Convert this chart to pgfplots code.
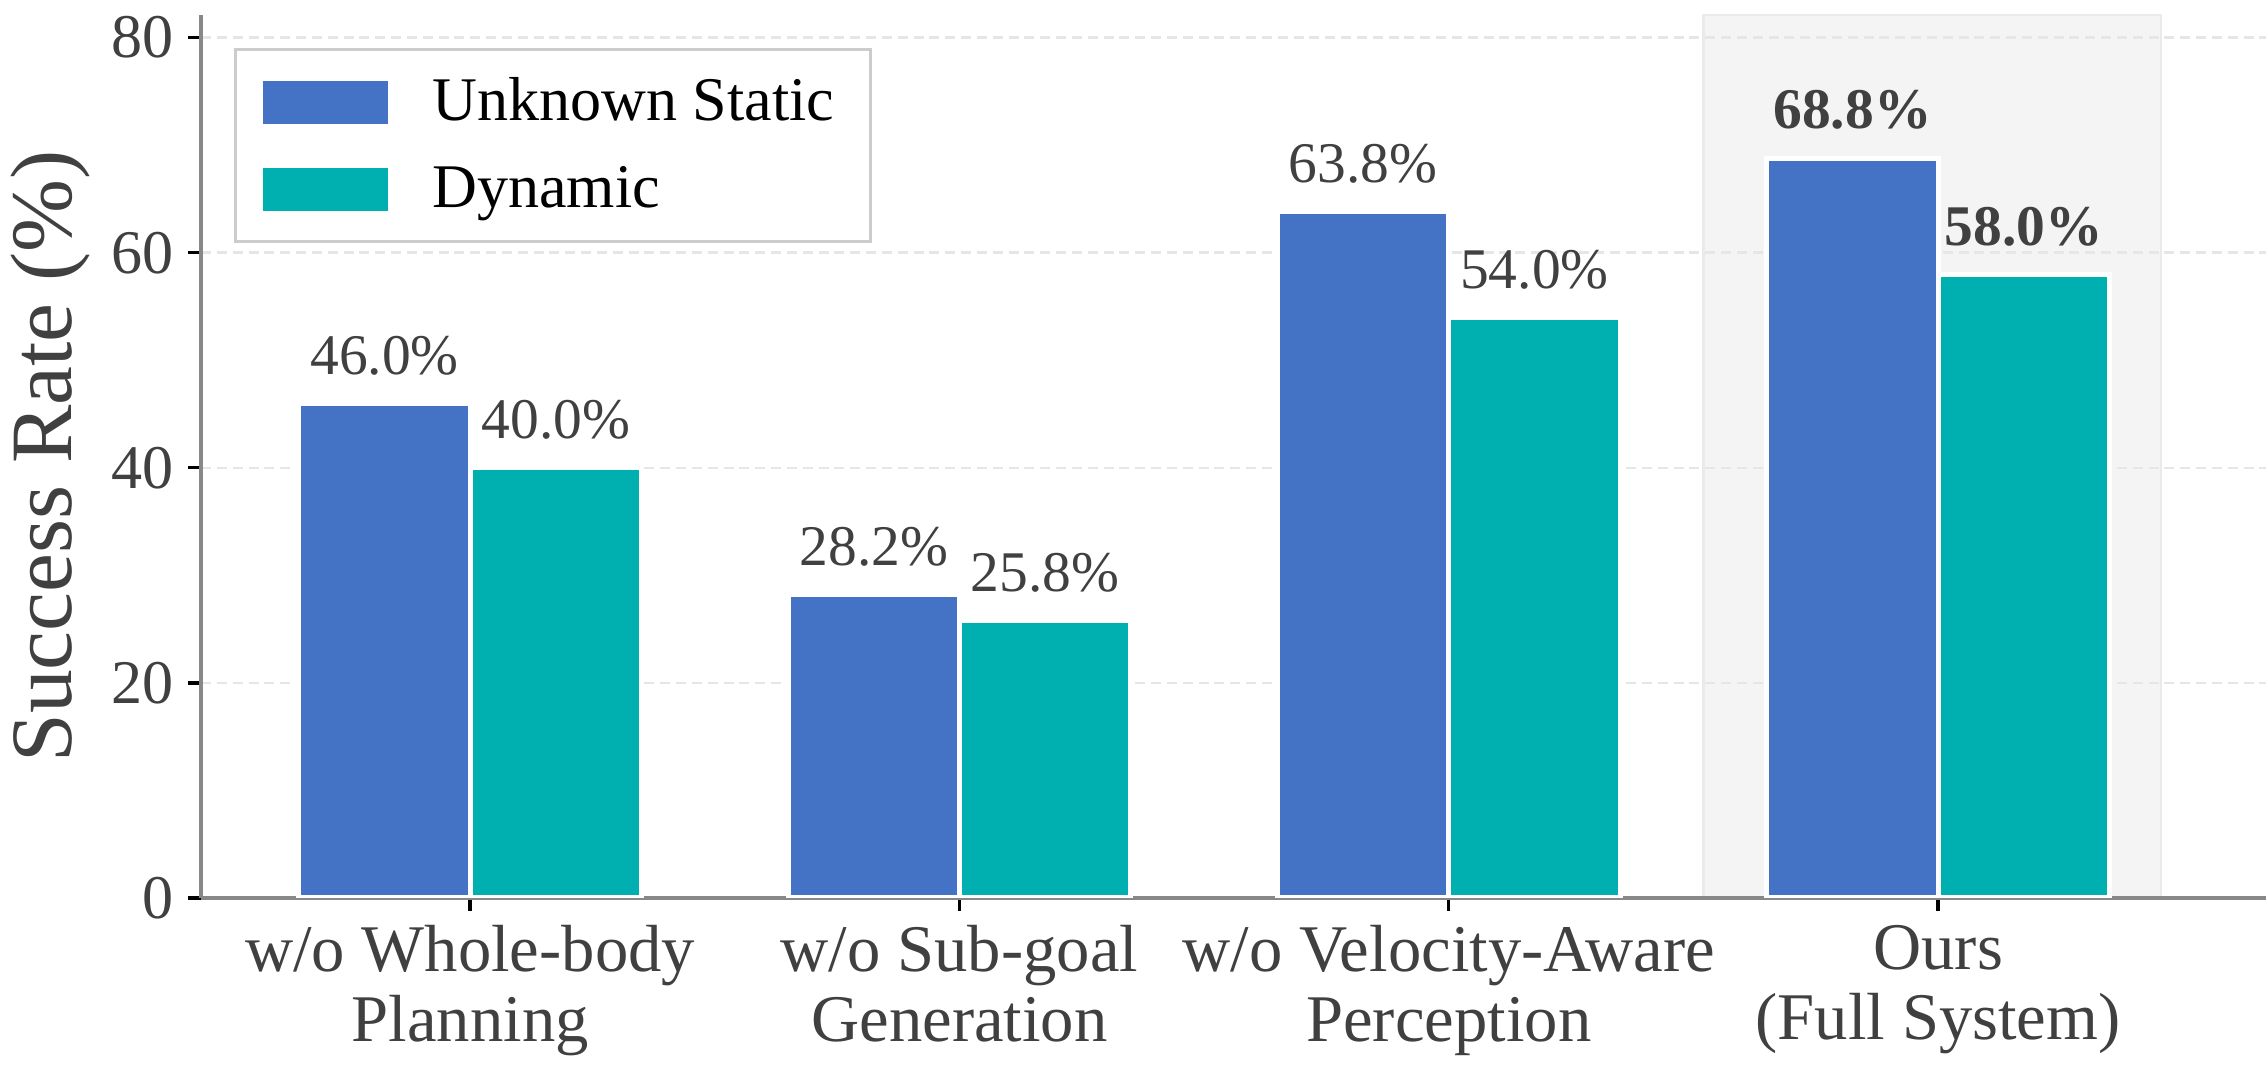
\documentclass[border=0pt]{standalone}
\usepackage{fontspec}
\setmainfont{Liberation Serif}
\usepackage{pgfplots}
\pgfplotsset{compat=1.18}

\definecolor{barblue}{HTML}{4472C4}
\definecolor{barteal}{HTML}{00B0B0}
\definecolor{txtgray}{HTML}{404040}
\definecolor{spinegray}{HTML}{888888}
\definecolor{gridgray}{HTML}{E6E6E6}
\definecolor{hlfill}{HTML}{F4F4F4}
\definecolor{hledge}{HTML}{EAEAEA}
\definecolor{legedge}{HTML}{CCCCCC}

\begin{document}
\begin{tikzpicture}
\begin{axis}[
    set layers=standard,
    at={(0,0)}, anchor=south west,
    scale only axis,
    width=495.6bp, height=211.9bp,
    xmin=-0.55, xmax=3.67,
    ymin=0, ymax=82.1,
    axis x line*=bottom, axis y line*=left,
    axis line style={spinegray, line width=1bp},
    tick align=outside,
    major tick length=3.1bp,
    tick style={black, line width=0.8bp},
    xtick={0,1,2,3},
    xticklabels={{w/o Whole-body\\Planning},{w/o Sub-goal\\Generation},{w/o Velocity-Aware\\Perception},{Ours\\(Full System)}},
    ytick={0,20,40,60,80},
    ymajorgrids,
    major grid style={gridgray, line width=0.6bp, dash pattern=on 2.4bp off 1.4bp},
    ticklabel style={text=txtgray},
    yticklabel style={font=\fontsize{14.9bp}{16bp}\selectfont},
    xticklabel style={font=\fontsize{16bp}{16.8bp}\selectfont, align=center},
    /pgf/number format/assume math mode=true,
    ylabel={Success Rate (\%)},
    ylabel style={font=\fontsize{21bp}{24bp}\selectfont, text=txtgray,
        at={(rel axis cs:0,0.5)}, anchor=center, yshift=36.2bp},
    legend style={at={(rel axis cs:0.016,0.9626)}, anchor=north west,
        draw=legedge, line width=0.6bp, fill=white,
        font=\fontsize{14.9bp}{16bp}\selectfont,
        inner xsep=6.7bp, inner ysep=4.8bp, row sep=5.4bp,
        /tikz/every odd column/.append style={column sep=8.6bp}},
    legend cell align=left,
    bar width=0.35,
    nodes near coords={\pgfmathprintnumber[fixed,fixed zerofill,precision=1]{\pgfplotspointmeta}\%},
    every node near coord/.append style={font=\fontsize{13.8bp}{15bp}\selectfont,
        text=txtgray, anchor=base, yshift=7bp},
]

% highlighted full system column
\begin{pgfonlayer}{axis background}
\fill[hlfill, draw=hledge, line width=0.6bp] (axis cs:2.52,0) rectangle (axis cs:3.455,82.1);
\end{pgfonlayer}

% ablations
\addplot[ybar, bar shift=-0.175, fill=barblue, draw=white, line width=1.2bp,
    every node near coord/.append style={xshift=-20.55bp},
    legend image code/.code={\fill[barblue] (0bp,-4.55bp) rectangle (28.8bp,4.55bp);}]
    coordinates {(0,46.0) (1,28.2) (2,63.8)};
\addlegendentry{Unknown Static}
\addplot[ybar, bar shift=0.175, fill=barteal, draw=white, line width=1.2bp,
    every node near coord/.append style={xshift=20.55bp},
    legend image code/.code={\fill[barteal] (0bp,-4.55bp) rectangle (28.8bp,4.55bp);}]
    coordinates {(0,40.0) (1,25.8) (2,54.0)};
\addlegendentry{Dynamic}

% full system, bold labels
\addplot[ybar, bar shift=-0.175, fill=barblue, draw=white, line width=1.2bp, forget plot,
    every node near coord/.append style={xshift=-20.55bp, font=\fontsize{13.8bp}{15bp}\selectfont\bfseries}]
    coordinates {(3,68.8)};
\addplot[ybar, bar shift=0.175, fill=barteal, draw=white, line width=1.2bp, forget plot,
    every node near coord/.append style={xshift=20.55bp, font=\fontsize{13.8bp}{15bp}\selectfont\bfseries}]
    coordinates {(3,58.0)};

\end{axis}
\pgfresetboundingbox
\path[use as bounding box] (-48.24bp,-41.76bp) rectangle (495.6bp,215.5bp);
\end{tikzpicture}
\end{document}
